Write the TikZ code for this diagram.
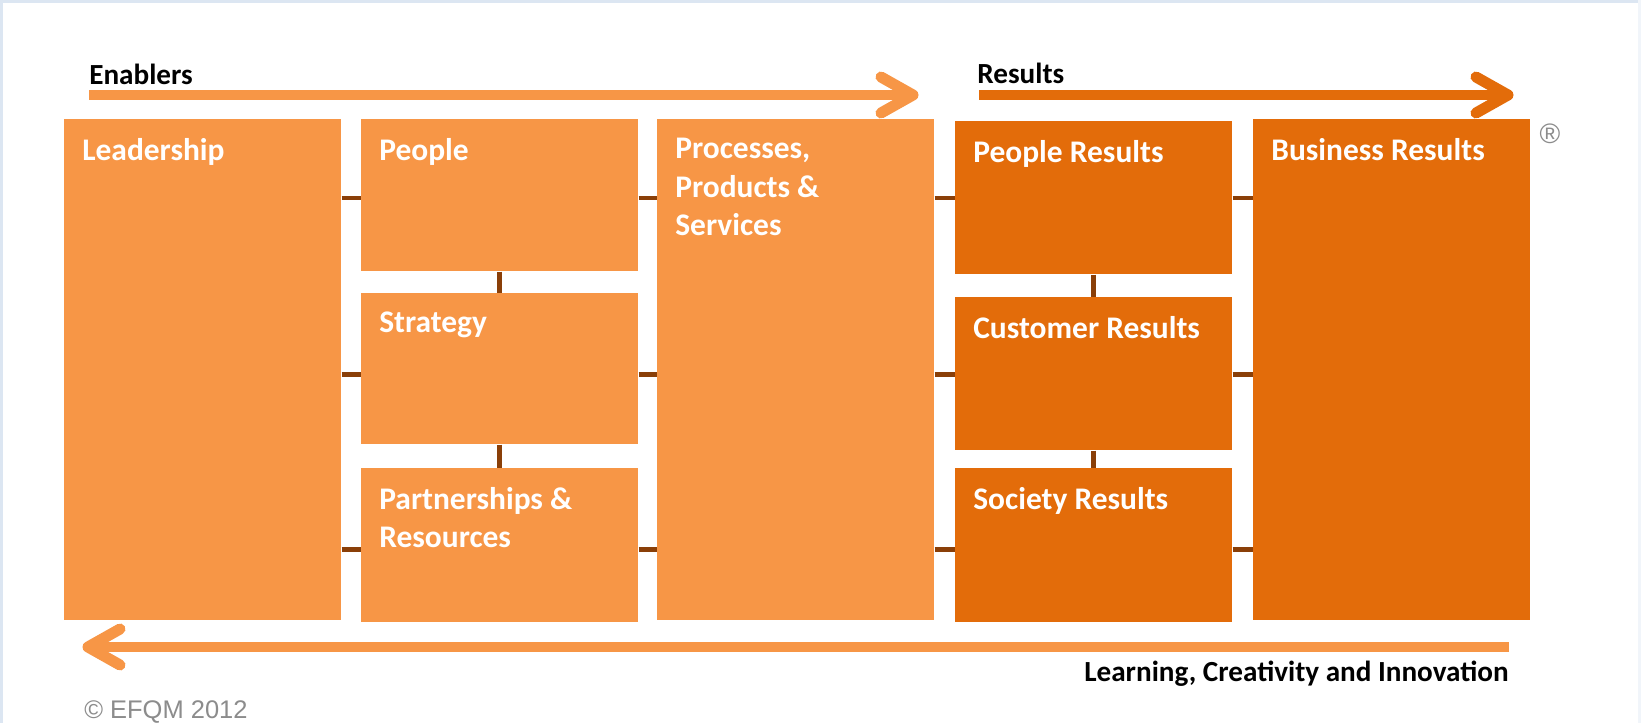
\documentclass[tikz,border=0pt]{standalone}
\usepackage{fontspec}
\setmainfont{Carlito}
\newfontfamily\thinfont{Liberation Sans}
\usepackage{tikz}
\usetikzlibrary{positioning}
\tikzset{>=latex}

\definecolor{enaorange}{HTML}{F79646}
\definecolor{resorange}{HTML}{E36C0A}
\definecolor{linkbrown}{HTML}{8A3F08}
\definecolor{frameblue}{HTML}{DCE6F2}

\tikzset{
  critbox/.style={rectangle, inner sep=0pt, minimum width=5.54cm, anchor=north west},
  enabox/.style={critbox, fill=enaorange},
  resbox/.style={critbox, fill=resorange},
  critlbl/.style={inner sep=0pt, align=left, text=white, %%
    font=\fontsize{17.9}{21.8}\selectfont\bfseries},
  headlbl/.style={inner sep=0pt, text=black, font=\fontsize{16.6}{20}\selectfont\bfseries},
  link/.style={draw=linkbrown, line width=0.1cm},
  shaft/.style={line width=0.19cm},
  chevron/.style={line width=0.22cm, line cap=round, line join=round}
}

\begin{document}
\begin{tikzpicture}[x=0.02cm, y=-0.02cm]
  \newcommand{\tallh}{10.02cm}
  \newcommand{\lblsep}{0.38cm and 0.36cm}

  \fill[white] (0,0) rectangle (1641,723);
  \useasboundingbox (0,0) rectangle (1641,723);
  \fill[frameblue] (0,0) rectangle (1641,3);
  \fill[frameblue] (0,0) rectangle (3,723);
  \fill[frameblue!40] (1638,0) rectangle (1641,723);

  % enablers
  \node[enabox, minimum height=\tallh] (lead) at (64,119) {};
  \node[enabox, minimum height=3.04cm] (peop) at (361,119) {};
  \node[enabox, minimum height=3.02cm] (strat) at (361,293) {};
  \node[enabox, minimum height=3.08cm] (partn) at (361,468) {};
  \node[enabox, minimum height=\tallh] (proc) at (657,119) {};

  % results
  \node[resbox, minimum height=3.06cm] (pres) at (955,121) {};
  \node[resbox, minimum height=3.06cm] (cres) at (955,297) {};
  \node[resbox, minimum height=3.08cm] (sres) at (955,468) {};
  \node[resbox, minimum height=\tallh] (bres) at (1253,119) {};

  % rows of the links
  \coordinate (row1) at (0,198);
  \coordinate (row2) at (0,374);
  \coordinate (row3) at (0,549);

  \draw[link] (lead.east |- row1) -- (peop.west |- row1);
  \draw[link] (lead.east |- row2) -- (strat.west |- row2);
  \draw[link] (lead.east |- row3) -- (partn.west |- row3);
  \draw[link] (peop.east |- row1) -- (proc.west |- row1);
  \draw[link] (strat.east |- row2) -- (proc.west |- row2);
  \draw[link] (partn.east |- row3) -- (proc.west |- row3);
  \draw[link] (peop.south) -- (strat.north);
  \draw[link] (strat.south) -- (partn.north);

  \draw[link] (proc.east |- row1) -- (pres.west |- row1);
  \draw[link] (proc.east |- row2) -- (cres.west |- row2);
  \draw[link] (proc.east |- row3) -- (sres.west |- row3);
  \draw[link] (pres.east |- row1) -- (bres.west |- row1);
  \draw[link] (cres.east |- row2) -- (bres.west |- row2);
  \draw[link] (sres.east |- row3) -- (bres.west |- row3);
  \draw[link] (pres.south) -- (cres.north);
  \draw[link] (cres.south) -- (sres.north);

  \node[critlbl, below right=\lblsep of lead.north west] (lead-l) {Leadership};
  \node[critlbl, below right=\lblsep of peop.north west] (peop-l) {People};
  \node[critlbl, below right=\lblsep of strat.north west] (strat-l) {Strategy};
  \node[critlbl, below right=\lblsep of partn.north west] (partn-l) {Partnerships \&\\Resources};
  \node[critlbl, below right=\lblsep of proc.north west] (proc-l) {Processes,\\Products \&\\Services};
  \node[critlbl, below right=\lblsep of pres.north west] (pres-l) {People Results};
  \node[critlbl, below right=\lblsep of cres.north west] (cres-l) {Customer Results};
  \node[critlbl, below right=\lblsep of sres.north west] (sres-l) {Society Results};
  \node[critlbl, below right=\lblsep of bres.north west] (bres-l) {Business Results};

  % arrows
  \coordinate (ena-s) at (89,95);
  \coordinate (ena-t) at (913,95);
  \coordinate (res-s) at (979,95);
  \coordinate (res-t) at (1508,95);
  \coordinate (lci-s) at (1509,647);
  \coordinate (lci-t) at (88,647);

  \draw[shaft, enaorange] (ena-s) -- (ena-t);
  \draw[chevron, enaorange] (ena-t) ++(-32,-18) -- (ena-t) -- ++(-32,18);
  \draw[shaft, resorange] (res-s) -- (res-t);
  \draw[chevron, resorange] (res-t) ++(-32,-18) -- (res-t) -- ++(-32,18);
  \draw[shaft, enaorange] (lci-s) -- (lci-t);
  \draw[chevron, enaorange] (lci-t) ++(32,-18) -- (lci-t) -- ++(32,18);

  \node[headlbl, anchor=base west] (ena-h) at (89,85) {Enablers};
  \node[headlbl, anchor=base west] (res-h) at (977,84) {Results};
  \node[headlbl, anchor=base east] (lci-h) at (1509,681) {Learning, Creativity and Innovation};

  \node[inner sep=0pt, text=black!45, font=\thinfont\fontsize{16}{18}\selectfont] %%
  (reg) at (1550,134) {®};
  \node[inner sep=0pt, anchor=base west, text=black!45, %%
    font=\thinfont\fontsize{14.5}{18}\selectfont] (copy) at (84,718) {© EFQM 2012};
\end{tikzpicture}
\end{document}
